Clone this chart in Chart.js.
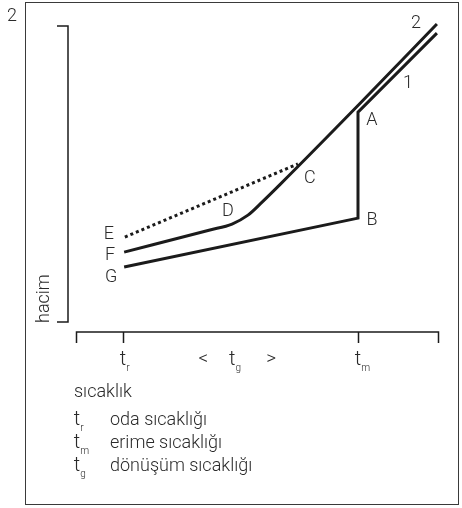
<!DOCTYPE html>
<html>
<head>
<meta charset="utf-8">
<script src="https://cdn.jsdelivr.net/npm/chart.js@4/dist/chart.umd.min.js"></script>
<style>
html,body{margin:0;padding:0;background:#fff;}
#wrap{width:462px;height:508px;position:relative;}
</style>
</head>
<body>
<div id="wrap"><canvas id="c"></canvas></div>
<script>
// ---- data (schematic units) ----
const crystX = [1.33, 7.79, 7.79, 9.97];          // curve 1: G -> B -> A -> end
const crystY = [1.86, 3.51, 7.09, 9.76];
const amorphX = [1.33, 3.70, 4.31, 4.75, 5.14, 5.64, 7.85, 9.97]; // curve 2: F -> D -> C -> end
const amorphY = [2.36, 3.11, 3.31, 3.61, 4.05, 4.65, 7.39, 10.07];
const glassX = [1.35, 6.13];                     // dotted E -> C
const glassY = [2.87, 5.34];
const tickValues = [0, 1.30, 7.79, 10];
const tickLabels = [null, ['t','r'], ['t','m'], null];
const tgValue = 4.40;
const legendSubs = ['r', 'm', 'g'];
const legendTexts = ['oda sıcaklığı', 'erime sıcaklığı', 'dönüşüm sıcaklığı'];
const yTitle = 'hacim';
const xTitle = 'sıcaklık';
const figNumber = '2';

const zip = (xs, ys) => xs.map((x, i) => ({x, y: ys[i]}));

const FONT = 'Roboto, "Liberation Sans", sans-serif';
const INK = '#1b1b1b';
const TXT = '#2a2a2a';

function drawSubT(ctx, x, base, sub) {
  ctx.font = '300 20px ' + FONT;
  ctx.textAlign = 'center';
  ctx.textBaseline = 'alphabetic';
  ctx.fillText('t', x, base);
  const w = ctx.measureText('t').width;
  ctx.font = '300 10px ' + FONT;
  ctx.textAlign = 'left';
  ctx.fillText(sub, x + w / 2, base + 6);
}

const decor = {
  id: 'decor',
  afterDraw(chart) {
    const ctx = chart.ctx;
    const xs = chart.scales.x, ys = chart.scales.y;
    ctx.save();
    // frame
    ctx.strokeStyle = '#3a3a3a';
    ctx.lineWidth = 1;
    ctx.strokeRect(25.5, 2.5, 433, 502);
    // figure number
    ctx.fillStyle = TXT;
    ctx.font = '300 18px ' + FONT;
    ctx.textAlign = 'center';
    ctx.textBaseline = 'alphabetic';
    ctx.fillText(figNumber, 12, 21);

    // y bracket
    ctx.strokeStyle = INK;
    ctx.lineWidth = 1.5;
    const bx = xs.left - 8;
    ctx.beginPath();
    ctx.moveTo(bx - 11, ys.top);
    ctx.lineTo(bx, ys.top);
    ctx.lineTo(bx, ys.bottom);
    ctx.lineTo(bx - 11, ys.bottom);
    ctx.stroke();
    // y title
    ctx.save();
    ctx.translate(49, ys.bottom + 1);
    ctx.rotate(-Math.PI / 2);
    ctx.font = '300 18px ' + FONT;
    ctx.textAlign = 'left';
    ctx.fillText(yTitle, 0, 0);
    ctx.restore();

    // x axis
    const ay = ys.bottom + 10;
    ctx.beginPath();
    ctx.moveTo(xs.getPixelForValue(tickValues[0]), ay);
    ctx.lineTo(xs.getPixelForValue(tickValues[tickValues.length - 1]), ay);
    tickValues.forEach(v => {
      const px = Math.round(xs.getPixelForValue(v)) + 0.5;
      ctx.moveTo(px, ay - 0.75);
      ctx.lineTo(px, ay + 11);
    });
    ctx.stroke();
    // tick labels
    ctx.fillStyle = TXT;
    tickValues.forEach((v, i) => {
      const lab = tickLabels[i];
      if (lab) drawSubT(ctx, xs.getPixelForValue(v), ay + 33, lab[1]);
    });
    const tgx = xs.getPixelForValue(tgValue);
    drawSubT(ctx, tgx - 3, ay + 33, 'g');
    ctx.font = '300 19px ' + FONT;
    ctx.textAlign = 'center';
    ctx.fillText('<', tgx - 32, ay + 32);
    ctx.fillText('>', tgx + 36, ay + 32);

    // x title and legend
    ctx.font = '300 18px ' + FONT;
    ctx.textAlign = 'left';
    ctx.fillText(xTitle, 74, ay + 65);
    legendTexts.forEach((t, i) => {
      const base = ay + 93 + i * 23;
      drawSubT(ctx, 77, base, legendSubs[i]);
      ctx.font = '300 18px ' + FONT;
      ctx.textAlign = 'left';
      ctx.fillText(t, 110, base);
    });

    // point letters
    const pt = (ds, idx) => chart.getDatasetMeta(ds).data[idx];
    const letters = [
      ['A', 0, 2, 14, 8], ['B', 0, 1, 14, 2], ['G', 0, 0, -13, 11],
      ['F', 1, 0, -14, 3], ['D', 1, 2, -4, -13], ['C', 2, 1, 12, 15],
      ['E', 2, 0, -16, -3], ['1', 0, 3, -29, 50], ['2', 1, 7, -21, 0]
    ];
    ctx.font = '300 18px ' + FONT;
    ctx.textAlign = 'center';
    ctx.textBaseline = 'middle';
    letters.forEach(([t, ds, idx, dx, dy]) => {
      const p = pt(ds, idx);
      ctx.fillText(t, p.x + dx, p.y + dy);
    });
    ctx.restore();
  }
};

new Chart(document.getElementById('c'), {
  type: 'line',
  data: {
    datasets: [
      { data: zip(crystX, crystY), borderColor: INK, borderWidth: 3, tension: 0,
        borderJoinStyle: 'miter', pointRadius: 0, clip: false },
      { data: zip(amorphX, amorphY), borderColor: INK, borderWidth: 3,
        cubicInterpolationMode: 'monotone', pointRadius: 0, clip: false },
      { data: zip(glassX, glassY), borderColor: INK, borderWidth: 3, borderDash: [3, 3],
        borderCapStyle: 'butt', pointRadius: 0, clip: false }
    ]
  },
  options: {
    responsive: true,
    maintainAspectRatio: false,
    animation: false,
    events: [],
    layout: { padding: { left: 76, right: 24, top: 26, bottom: 186 } },
    plugins: { legend: { display: false }, tooltip: { enabled: false } },
    scales: {
      x: { type: 'linear', min: 0, max: 10, display: false },
      y: { type: 'linear', min: 0, max: 10, display: false }
    }
  },
  plugins: [decor]
});
</script>
</body>
</html>
